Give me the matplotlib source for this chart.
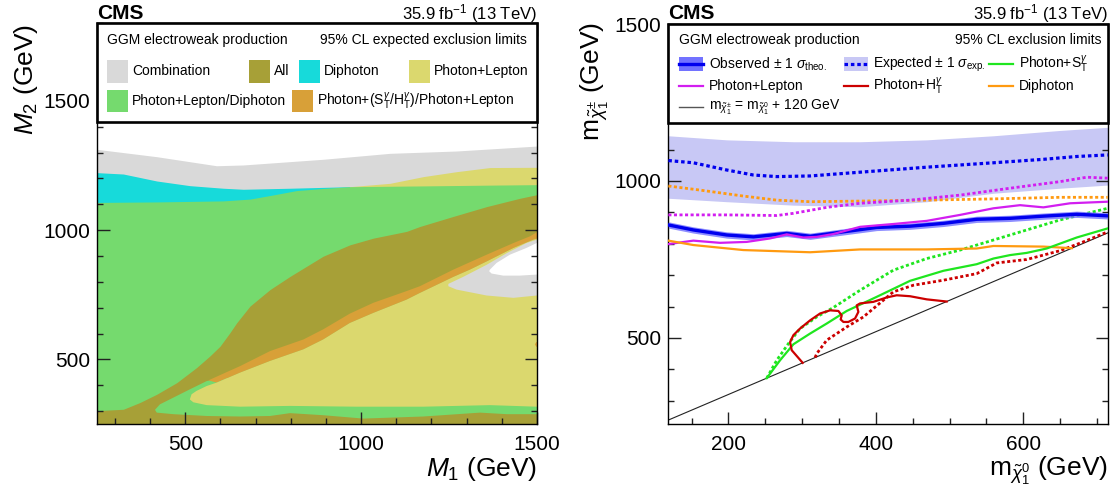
import numpy as np
import matplotlib
matplotlib.use('Agg')
import matplotlib.pyplot as plt
from matplotlib.patches import Rectangle
from matplotlib.lines import Line2D
from matplotlib.ticker import MultipleLocator

# ---------------- left panel: best expected analysis in the M1-M2 plane (GeV)
grey_top_m1 = [240, 419, 589, 665, 892, 1082, 1271, 1510]
grey_top_m2 = [1314, 1284, 1249, 1252, 1274, 1297, 1306, 1326]

cyan_top_m1 = [240, 324, 419, 513, 608, 665, 798, 968]
cyan_top_m2 = [1223, 1217, 1190, 1172, 1162, 1158, 1162, 1168]

pl_top_m1 = [968, 1082, 1177, 1271, 1366, 1510]
pl_top_m2 = [1168, 1181, 1207, 1226, 1242, 1243]

green_top_m1 = [240, 419, 608, 684, 750, 817, 892, 968, 1177, 1366, 1510]
green_top_m2 = [1107, 1109, 1113, 1120, 1136, 1153, 1161, 1168, 1171, 1174, 1176]

olive_top_m1 = [240, 324, 371, 419, 476, 532, 570, 599, 627, 646, 684, 741, 798,
                892, 968, 1035, 1129, 1167, 1262, 1357, 1451, 1510]
olive_top_m2 = [301, 307, 333, 365, 410, 468, 513, 551, 603, 641, 706, 770, 821,
                899, 943, 969, 995, 1014, 1053, 1091, 1123, 1140]

green_low_top_m1 = [414, 428, 466, 513, 561, 600, 1510]
green_low_top_m2 = [305, 326, 352, 384, 416, 428, 428]
green_low_bot_m1 = [414, 419, 466, 561, 656, 741, 798, 892, 1006, 1177, 1338, 1414, 1510]
green_low_bot_m2 = [305, 294, 288, 281, 279, 281, 292, 284, 271, 279, 294, 288, 288]

orange_top_m1 = [566, 656, 741, 836, 892, 968, 1035, 1129, 1167, 1262, 1357, 1433, 1480, 1510]
orange_top_m2 = [419, 474, 532, 577, 616, 677, 719, 764, 783, 847, 905, 950, 976, 1000]
orange_bot_m1 = [589, 656, 741, 836, 892, 968, 1035, 1129, 1167, 1262, 1309, 1357, 1433, 1489, 1510]
orange_bot_m2 = [410, 449, 494, 539, 577, 641, 680, 731, 757, 819, 847, 879, 931, 963, 972]

pl_low_top_m1 = [513, 518, 532, 561, 589, 656, 741, 836, 892, 968, 1035, 1129, 1167,
                 1262, 1309, 1357, 1433, 1489, 1510]
pl_low_top_m2 = [345, 365, 378, 397, 410, 449, 494, 539, 577, 641, 680, 731, 757,
                 819, 847, 879, 931, 963, 972]
pl_low_bot_m1 = [513, 523, 561, 656, 798, 987, 1177, 1366, 1499, 1510]
pl_low_bot_m2 = [345, 334, 323, 317, 320, 317, 317, 323, 317, 317]

grey_blob_top_m1 = [1248, 1290, 1357, 1414, 1470, 1499, 1510]
grey_blob_top_m2 = [792, 819, 866, 911, 950, 963, 964]
grey_blob_bot_m1 = [1248, 1271, 1357, 1433, 1499, 1510]
grey_blob_bot_m2 = [783, 770, 747, 738, 747, 747]

hole_top_m1 = [1364, 1366, 1385, 1423, 1470, 1499, 1510]
hole_top_m2 = [841, 847, 873, 905, 931, 950, 951]
hole_bot_m1 = [1364, 1371, 1404, 1451, 1499, 1510]
hole_bot_m2 = [841, 832, 824, 824, 828, 828]

orange_blob_m1 = [1510, 1498, 1494, 1498, 1510]
orange_blob_m2 = [548, 549, 558, 567, 568]

# ---------------- right panel: exclusion contours (neutralino mass, chargino mass)
exp_band_x = [118.6, 197.7, 288.2, 378.6, 469.1, 559.5, 649.9, 714.5]
exp_band_up = [1144, 1131, 1125, 1125, 1131, 1144, 1161, 1171]
exp_band_dn = [945, 934, 923, 918, 934, 961, 977, 987]

exp_x = [118.6, 152.5, 197.7, 233.9, 265.6, 310.8, 378.6, 469.1, 559.5, 627.3, 672.5, 714.5]
exp_y = [1065, 1058, 1035, 1019, 1014, 1016, 1028, 1044, 1058, 1069, 1078, 1083]

obs_x = [118.6, 152.5, 197.7, 233.9, 279.1, 310.8, 356.0, 401.2, 446.4, 491.7, 536.9,
         582.1, 627.3, 672.5, 714.5]
obs_y = [860, 844, 828, 822, 833, 824, 838, 852, 856, 865, 878, 881, 888, 894, 889]
obs_up = [870, 854, 838, 832, 843, 834, 848, 862, 866, 875, 888, 891, 898, 904, 899]
obs_dn = [850, 834, 818, 812, 823, 814, 828, 842, 846, 855, 868, 871, 878, 884, 879]

dipho_exp_x = [118.6, 161.6, 220.3, 265.6, 310.8, 378.6, 469.1, 559.5, 649.9, 714.5]
dipho_exp_y = [984, 971, 952, 939, 934, 936, 939, 943, 948, 948]
dipho_obs_x = [118.6, 152.5, 220.3, 310.8, 378.6, 469.1, 536.9, 559.5, 627.3, 665.7]
dipho_obs_y = [810, 796, 780, 773, 782, 782, 785, 793, 791, 786]

lep_exp_x = [118.6, 197.7, 265.6, 288.2, 333.4, 378.6, 446.4, 514.3, 582.1, 649.9, 686.1, 714.5]
lep_exp_y = [892, 892, 890, 897, 916, 929, 939, 955, 977, 998, 1012, 1009]
lep_obs_x = [118.6, 152.5, 188.7, 224.9, 256.5, 279.1, 301.7, 319.8, 342.4, 378.6, 423.8,
             469.1, 514.3, 559.5, 595.6, 627.3, 663.5, 714.5]
lep_obs_y = [799, 810, 803, 806, 817, 830, 820, 822, 831, 854, 863, 873, 892, 913, 923,
             916, 929, 934]

st_exp_x = [252.0, 265.6, 281.4, 297.2, 319.8, 342.4, 378.6, 423.8, 469.1, 514.3, 559.5,
            604.7, 649.9, 714.5]
st_exp_y = [372, 429, 482, 530, 567, 597, 652, 716, 753, 780, 812, 844, 876, 913]
st_obs_x = [252.0, 270.1, 288.2, 310.8, 333.4, 360.5, 401.2, 446.4, 491.7, 536.9, 559.5,
            582.1, 604.7, 631.8, 672.5, 714.5]
st_obs_y = [372, 429, 480, 514, 546, 586, 631, 682, 714, 735, 753, 764, 771, 785, 820, 849]

ht_exp_x = [317.6, 319.8, 333.4, 360.5, 383.1, 423.8, 450.9, 491.7, 536.9, 564.0, 604.7,
            649.9, 681.4, 714.5]
ht_exp_y = [437.6, 450, 493, 535, 567, 647, 668, 684, 705, 739, 750, 778, 806, 838]
ht_obs_x = [300.8, 285.9, 283.7, 288.2, 297.2, 310.8, 324.4, 337.9, 349.2, 353.7, 352.3,
            356.0, 362.7, 371.8, 376.3, 374.1, 378.6, 396.6, 414.7, 428.3, 446.3, 469.0, 496.1]
ht_obs_y = [420.8, 461, 487, 509, 530, 556, 578, 588, 586, 572, 559, 551, 551, 562, 583,
            604, 610, 615, 629, 636, 633, 623, 616.1]

diag_x = [100, 720]
diag_y = [220, 840]

# colours
c_comb, c_all, c_dipho = '#d9d9d9', '#a7a037', '#17dada'
c_pl, c_pld, c_st = '#dbd86e', '#75da6e', '#d8a038'
c_band, c_blue, c_obsband = '#c8c8f5', '#0000ee', '#7272ff'
c_mag, c_orange, c_green, c_red = '#d21ef0', '#ff9a10', '#1fe61f', '#cc0000'

plt.rcParams['font.family'] = ['Liberation Sans', 'DejaVu Sans']
plt.rcParams['mathtext.fontset'] = 'custom'
plt.rcParams['mathtext.rm'] = 'Liberation Sans'
plt.rcParams['mathtext.it'] = 'Liberation Sans:italic'
plt.rcParams['mathtext.bf'] = 'Liberation Sans:bold'

W, H = 1115, 490
fig = plt.figure(figsize=(W / 100, H / 100), dpi=100)


def fx(px):
    return px / W


def fy(py):
    return 1 - py / H


ax1 = fig.add_axes([fx(97.3), fy(424), fx(537) - fx(97.3), fy(23.3) - fy(424)])
ax2 = fig.add_axes([fx(668.3), fy(424), fx(1107.7) - fx(668.3), fy(24) - fy(424)])

# ---- left panel fills, back to front
ax1.fill_between(grey_top_m1, 0, grey_top_m2, color=c_comb, lw=0)
ax1.fill_between(cyan_top_m1, 0, cyan_top_m2, color=c_dipho, lw=0)
ax1.fill_between(pl_top_m1, 0, pl_top_m2, color=c_pl, lw=0)
ax1.fill_between(green_top_m1, 0, green_top_m2, color=c_pld, lw=0)
ax1.fill_between(olive_top_m1, 0, olive_top_m2, color=c_all, lw=0)
ax1.fill(np.r_[green_low_top_m1, green_low_bot_m1[::-1]],
         np.r_[green_low_top_m2, green_low_bot_m2[::-1]], color=c_pld, lw=0)
ax1.fill(np.r_[orange_top_m1, orange_bot_m1[::-1]],
         np.r_[orange_top_m2, orange_bot_m2[::-1]], color=c_st, lw=0)
ax1.fill(np.r_[pl_low_top_m1, pl_low_bot_m1[::-1]],
         np.r_[pl_low_top_m2, pl_low_bot_m2[::-1]], color=c_pl, lw=0)
ax1.fill(np.r_[grey_blob_top_m1, grey_blob_bot_m1[::-1]],
         np.r_[grey_blob_top_m2, grey_blob_bot_m2[::-1]], color=c_comb, lw=0)
ax1.fill(np.r_[hole_top_m1, hole_bot_m1[::-1]],
         np.r_[hole_top_m2, hole_bot_m2[::-1]], color='white', lw=0)
ax1.fill(orange_blob_m1, orange_blob_m2, color=c_st, lw=0)

ax1.set_xlim(250, 1500)
ax1.set_ylim(250, 1800)
ax1.xaxis.set_major_locator(MultipleLocator(500))
ax1.xaxis.set_minor_locator(MultipleLocator(100))
ax1.yaxis.set_major_locator(MultipleLocator(500))
ax1.yaxis.set_minor_locator(MultipleLocator(100))

# ---- right panel
ax2.fill_between(exp_band_x, exp_band_dn, exp_band_up, color=c_band, lw=0, zorder=1)
dots = (0, (1.1, 0.9))
ax2.plot(exp_x, exp_y, color=c_blue, lw=2.3, ls=dots, zorder=3)
ax2.plot(dipho_exp_x, dipho_exp_y, color=c_orange, lw=2.0, ls=dots, zorder=3)
ax2.plot(lep_exp_x, lep_exp_y, color=c_mag, lw=2.0, ls=dots, zorder=3)
ax2.plot(st_exp_x, st_exp_y, color=c_green, lw=2.0, ls=dots, zorder=3)
ax2.plot(ht_exp_x, ht_exp_y, color=c_red, lw=2.0, ls=dots, zorder=3)
ax2.fill_between(obs_x, obs_dn, obs_up, color=c_obsband, lw=0, alpha=0.8, zorder=4)
ax2.plot(obs_x, obs_y, color=c_blue, lw=2.4, zorder=5)
ax2.plot(lep_obs_x, lep_obs_y, color=c_mag, lw=1.6, zorder=6)
ax2.plot(dipho_obs_x, dipho_obs_y, color=c_orange, lw=1.6, zorder=6)
ax2.plot(st_obs_x, st_obs_y, color=c_green, lw=1.6, zorder=6)
ax2.plot(ht_obs_x, ht_obs_y, color=c_red, lw=1.6, zorder=6)
ax2.plot(diag_x, diag_y, color='#222222', lw=0.8, zorder=2)

ax2.set_xlim(118.5, 714.5)
ax2.set_ylim(226, 1500)
ax2.xaxis.set_major_locator(MultipleLocator(200))
ax2.xaxis.set_minor_locator(MultipleLocator(50))
ax2.yaxis.set_major_locator(MultipleLocator(500))
ax2.yaxis.set_minor_locator(MultipleLocator(100))

for ax in (ax1, ax2):
    ax.tick_params(which='both', direction='in', top=True, right=True,
                   labelsize=15, width=1, color='#222222')
    ax.tick_params(which='major', length=9)
    ax.tick_params(which='minor', length=4.5)
    ax.tick_params(axis='x', pad=8)
    ax.tick_params(axis='y', pad=5)
    for s in ax.spines.values():
        s.set_linewidth(1.0)
    # legend frame
    ax.add_patch(Rectangle((0, 0.7525), 1, 0.2475, transform=ax.transAxes,
                           fc='white', ec='black', lw=1.9, zorder=10, clip_on=False))

# ---- left legend
lfs = 10
ax1.text(0.022, 0.958, 'GGM electroweak production', transform=ax1.transAxes,
         fontsize=lfs, va='center', ha='left', zorder=11)
ax1.text(0.978, 0.958, '95% CL expected exclusion limits', transform=ax1.transAxes,
         fontsize=lfs, va='center', ha='right', zorder=11)
left_items = [
    (0.022, 0.880, c_comb, 'Combination'),
    (0.345, 0.880, c_all, 'All'),
    (0.459, 0.880, c_dipho, 'Diphoton'),
    (0.709, 0.880, c_pl, 'Photon+Lepton'),
    (0.022, 0.806, c_pld, 'Photon+Lepton/Diphoton'),
    (0.443, 0.806, c_st,
     r'Photon+(S$_{\mathrm{T}}^{\gamma}$/H$_{\mathrm{T}}^{\gamma}$)/Photon+Lepton'),
]
for x, y, c, lab in left_items:
    ax1.add_patch(Rectangle((x, y - 0.028), 0.048, 0.056, transform=ax1.transAxes,
                            fc=c, ec='none', zorder=11, clip_on=False))
    ax1.text(x + 0.057, y, lab, transform=ax1.transAxes, fontsize=lfs,
             va='center', ha='left', zorder=11)

# ---- right legend
ax2.text(0.024, 0.96, 'GGM electroweak production', transform=ax2.transAxes,
         fontsize=lfs, va='center', ha='left', zorder=11)
ax2.text(0.985, 0.96, '95% CL exclusion limits', transform=ax2.transAxes,
         fontsize=lfs, va='center', ha='right', zorder=11)
r1, r2, r3 = 0.9, 0.845, 0.7925
cols = [0.0244, 0.399, 0.730]
sw = 0.055
for cx, band, bc in [(cols[0], c_obsband, c_blue), (cols[1], c_band, c_blue)]:
    ax2.add_patch(Rectangle((cx, r1 - 0.018), sw, 0.036, transform=ax2.transAxes,
                            fc=band, ec='none', zorder=11, clip_on=False))
ax2.add_line(Line2D([cols[0], cols[0] + sw], [r1, r1], transform=ax2.transAxes,
                    color=c_blue, lw=2.4, zorder=12))
ax2.add_line(Line2D([cols[1], cols[1] + sw], [r1, r1], transform=ax2.transAxes,
                    color=c_blue, lw=2.3, ls=dots, zorder=12))
right_lines = [
    (cols[2], r1, c_green, 1.6),
    (cols[0], r2, c_mag, 1.6),
    (cols[1], r2, c_red, 1.6),
    (cols[2], r2, c_orange, 1.6),
    (cols[0], r3, '#555555', 1.0),
]
for cx, y, c, lw in right_lines:
    ax2.add_line(Line2D([cx, cx + sw], [y, y], transform=ax2.transAxes,
                        color=c, lw=lw, zorder=12))
right_labels = [
    (cols[0], r1, r'Observed $\pm$ 1 $\sigma_{\mathrm{theo.}}$'),
    (cols[1], r1, r'Expected $\pm$ 1 $\sigma_{\mathrm{exp.}}$'),
    (cols[2], r1, r'Photon+S$_{\mathrm{T}}^{\gamma}$'),
    (cols[0], r2, 'Photon+Lepton'),
    (cols[1], r2, r'Photon+H$_{\mathrm{T}}^{\gamma}$'),
    (cols[2], r2, 'Diphoton'),
    (cols[0], r3, r'm$_{\tilde{\chi}^{\pm}_{1}}$ = m$_{\tilde{\chi}^{0}_{1}}$ + 120 GeV'),
]
for cx, y, lab in right_labels:
    ax2.text(cx + 0.068, y, lab, transform=ax2.transAxes, fontsize=lfs,
             va='center', ha='left', zorder=12)

# ---- headers and axis titles
for x0, x1 in [(97.3, 537), (668.3, 1107.7)]:
    fig.text(fx(x0), fy(19), 'CMS', fontsize=15, fontweight='bold', ha='left', va='baseline')
    fig.text(fx(x1), fy(19), r'35.9 fb$^{-1}$ (13 TeV)', fontsize=12, ha='right',
             va='baseline')

fig.text(fx(537), fy(476), r'$M_{1}$ (GeV)', fontsize=19, ha='right', va='baseline')
fig.text(fx(1107.7), fy(476), r'm$_{\tilde{\chi}^{0}_{1}}$ (GeV)', fontsize=19,
         ha='right', va='baseline')
fig.text(fx(26), fy(24), r'$M_{2}$ (GeV)', fontsize=19, rotation=90, ha='center', va='top')
fig.text(fx(595), fy(22), r'm$_{\tilde{\chi}^{\pm}_{1}}$ (GeV)', fontsize=19,
         rotation=90, ha='center', va='top')

fig.savefig('out.png', dpi=100, facecolor='white')
